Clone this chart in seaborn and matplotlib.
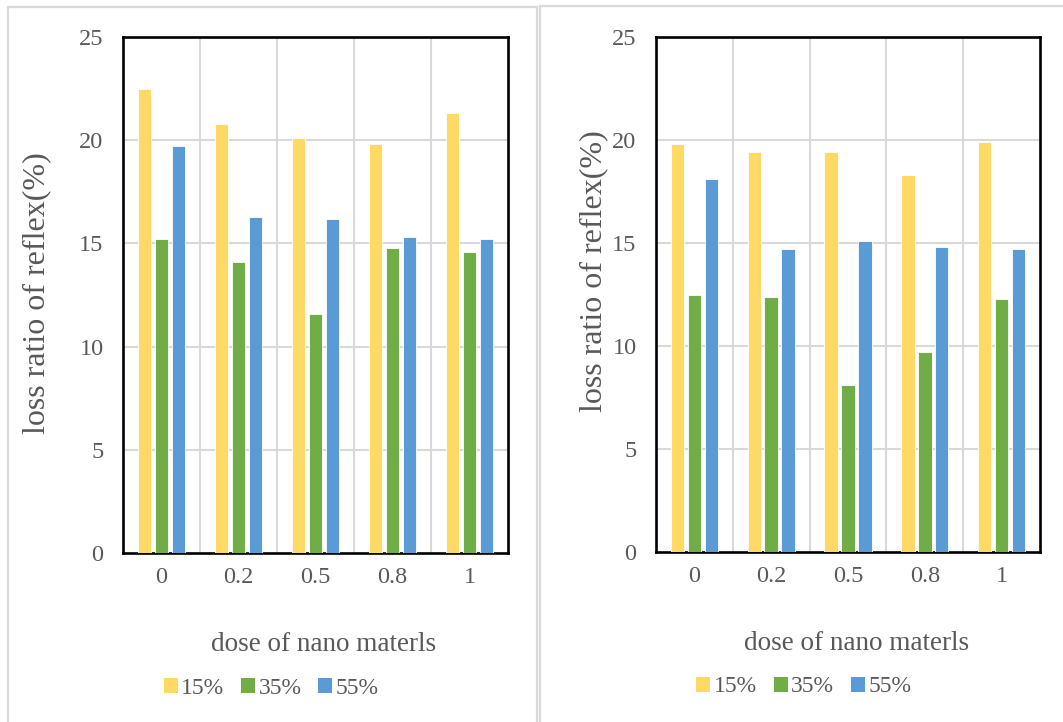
import matplotlib
matplotlib.use("Agg")
import matplotlib.pyplot as plt
from matplotlib.patches import Patch, Rectangle
import numpy as np
import pandas as pd
import seaborn as sns

# dose of nano materials (category labels)
doses = ["0", "0.2", "0.5", "0.8", "1"]
series = ["15%", "35%", "55%"]

# left chart
left_15 = [22.5, 20.8, 20.1, 19.8, 21.3]
left_35 = [15.2, 14.1, 11.6, 14.8, 14.6]
left_55 = [19.7, 16.3, 16.2, 15.3, 15.2]

# right chart
right_15 = [19.8, 19.4, 19.4, 18.3, 19.9]
right_35 = [12.5, 12.4, 8.1, 9.7, 12.3]
right_55 = [18.1, 14.7, 15.1, 14.8, 14.7]

yticks = [0, 5, 10, 15, 20, 25]
colors = ["#FFD966", "#70AD47", "#5B9BD5"]
text_color = "#595959"
grid_color = "#D9D9D9"

sns.set_theme(style="white")
plt.rcParams["font.family"] = ["Liberation Serif", "DejaVu Serif"]


def long_frame(a, b, c):
    rows = []
    for name, vals in zip(series, (a, b, c)):
        for d, v in zip(doses, vals):
            rows.append({"dose": d, "series": name, "value": v})
    return pd.DataFrame(rows)


fig = plt.figure(figsize=(10.63, 7.22), dpi=100)
W, H = 1063, 722

# panel frames
fig.patches.append(Rectangle((8 / W, -0.05), (537 - 8) / W, 1.05 - 7 / H,
                             transform=fig.transFigure, fill=False,
                             edgecolor=grid_color, linewidth=1.6))
fig.patches.append(Rectangle((540 / W, -0.05), 0.6, 1.05 - 6 / H,
                             transform=fig.transFigure, fill=False,
                             edgecolor=grid_color, linewidth=1.6))

panels = [
    dict(data=(left_15, left_35, left_55), rect=(123, 37, 508, 553),
         ylab=(-0.186, 0.504)),
    dict(data=(right_15, right_35, right_55), rect=(656, 37, 1040, 552),
         ylab=(-0.124, 0.546)),
]

for p in panels:
    x0, y0, x1, y1 = p["rect"]
    ax = fig.add_axes([x0 / W, 1 - y1 / H, (x1 - x0) / W, (y1 - y0) / H])
    df = long_frame(*p["data"])
    sns.barplot(data=df, x="dose", y="value", hue="series", order=doses,
                hue_order=series, palette=colors, width=0.66, gap=0.2,
                saturation=1, edgecolor="white", linewidth=0.6,
                legend=False, ax=ax, zorder=3)
    ax.set_ylim(0, 25)
    ax.set_xlim(-0.5, len(doses) - 0.5)
    ax.set_yticks(yticks)
    ax.set_yticklabels([str(t) for t in yticks])

    # grid: horizontal at ticks, vertical between categories
    for t in yticks[1:-1]:
        ax.axhline(t, color=grid_color, linewidth=1.5, zorder=1)
    for i in range(len(doses) - 1):
        ax.axvline(i + 0.5, color=grid_color, linewidth=1.5, zorder=1)

    for s in ax.spines.values():
        s.set_visible(True)
        s.set_color("black")
        s.set_linewidth(1.9)

    ax.tick_params(axis="both", length=0, labelsize=17.5, colors=text_color)
    ax.tick_params(axis="y", pad=14)
    ax.tick_params(axis="x", pad=10)

    ax.set_xlabel("dose of nano materls", fontsize=19.5, color=text_color)
    ax.xaxis.set_label_coords(0.522, -0.153)
    ax.set_ylabel("loss ratio of reflex(%)", fontsize=23, color=text_color)
    ax.yaxis.set_label_coords(*p["ylab"])

    handles = [Patch(facecolor=c, edgecolor="none", label=s)
               for c, s in zip(colors, series)]
    ax.legend(handles=handles, ncol=3, loc="center",
              bbox_to_anchor=(0.385, -0.262), frameon=False,
              fontsize=17, labelcolor=text_color, handlelength=0.6,
              handleheight=0.6, handletextpad=0.15, columnspacing=0.7)

fig.savefig("out.png", dpi=100)
